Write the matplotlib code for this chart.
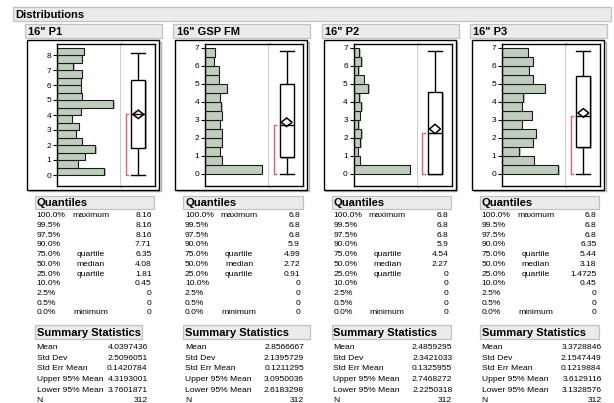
import numpy as np
import matplotlib
matplotlib.use('Agg')
import matplotlib.pyplot as plt
from matplotlib.patches import Rectangle, Polygon
import matplotlib.patheffects as pe

plt.rcParams['font.family'] = ['Liberation Sans', 'DejaVu Sans']

# ---------------- data ----------------
titles = ['16" P1', '16" GSP FM', '16" P2', '16" P3']
bin_width = 0.5
counts_p1 = [32, 14, 19, 26, 17, 13, 15, 10, 16, 38, 17, 16, 16, 17, 11, 17, 18]
counts_gsp = [70, 21, 18, 21, 21, 18, 21, 20, 18, 27, 17, 17, 11, 12]
counts_p2 = [119, 13, 9, 14, 16, 10, 13, 16, 12, 31, 21, 10, 16, 12]
counts_p3 = [42, 24, 13, 23, 25, 15, 22, 15, 16, 32, 23, 20, 23, 19]
all_counts = [counts_p1, counts_gsp, counts_p2, counts_p3]

y_tick_max = [8, 7, 7, 7]

q_pct = ['100.0%', '99.5%', '97.5%', '90.0%', '75.0%', '50.0%', '25.0%',
         '10.0%', '2.5%', '0.5%', '0.0%']
q_names = ['maximum', '', '', '', 'quartile', 'median', 'quartile', '', '', '', 'minimum']
quant_p1 = ['8.16', '8.16', '8.16', '7.71', '6.35', '4.08', '1.81', '0.45', '0', '0', '0']
quant_gsp = ['6.8', '6.8', '6.8', '5.9', '4.99', '2.72', '0.91', '0', '0', '0', '0']
quant_p2 = ['6.8', '6.8', '6.8', '5.9', '4.54', '2.27', '0', '0', '0', '0', '0']
quant_p3 = ['6.8', '6.8', '6.8', '6.35', '5.44', '3.18', '1.4725', '0.45', '0', '0', '0']
all_quant = [quant_p1, quant_gsp, quant_p2, quant_p3]

stat_names = ['Mean', 'Std Dev', 'Std Err Mean', 'Upper 95% Mean', 'Lower 95% Mean', 'N']
stats_p1 = ['4.0397436', '2.5096051', '0.1420784', '4.3193001', '3.7601871', '312']
stats_gsp = ['2.8566667', '2.1395729', '0.1211295', '3.0950036', '2.6183298', '312']
stats_p2 = ['2.4859295', '2.3421033', '0.1325955', '2.7468272', '2.2250318', '312']
stats_p3 = ['3.3728846', '2.1547449', '0.1219884', '3.6129116', '3.1328576', '312']
all_stats = [stats_p1, stats_gsp, stats_p2, stats_p3]

shorth_lo = [0, 0, 0, 0]
shorth_hi = [4.08, 2.72, 2.27, 3.18]

# ---------------- layout ----------------
W, H = 614, 403
fig = plt.figure(figsize=(W / 100, H / 100), dpi=100)
fig.patch.set_facecolor('white')

ov = fig.add_axes([0, 0, 1, 1], zorder=0)
ov.set_xlim(0, W)
ov.set_ylim(H, 0)
ov.axis('off')

BAR_C = '#bfcdbd'
HDR_FC = '#ebebeb'
HDR_EC = '#c2c2c2'
RED = '#e2606f'
BODY = 6.1
HEAD = 8


def hdr(x0, y0, x1, y1):
    ov.add_patch(Rectangle((x0, y0), x1 - x0, y1 - y0, facecolor=HDR_FC,
                           edgecolor=HDR_EC, lw=0.9))


def px_axes(x0, y0, x1, y1, z=2):
    return fig.add_axes([x0 / W, 1 - y1 / H, (x1 - x0) / W, (y1 - y0) / H], zorder=z)


# Distributions header
hdr(13.3, 7.3, 610.7, 21.3)
ov.text(15.5, 14.3 + 4, 'Distributions', fontsize=HEAD, fontweight='bold',
        ha='left', va='baseline')

shadow = [pe.SimplePatchShadow(offset=(0.9, -0.9), shadow_rgbFace='#808080', alpha=0.5),
          pe.Normal()]

sum_hdr_w = [105, 125, 117.5, 117.5]
sum_val_r = [111, 119, 119, 120]

for i in range(4):
    dx = 148.35 * i
    fl = 27 + dx
    hl, sep, ir = fl + 30, fl + 93.8, fl + 128
    top, bot = 43.5, 186

    # title bar
    hdr(25 + dx, 24, 162 + dx, 37.7)
    ov.text(28.3 + dx, 30.8 + 4, titles[i], fontsize=HEAD, fontweight='bold',
            ha='left', va='baseline')

    # outer frame with shadow
    ov.add_patch(Rectangle((fl + 1.5, 41.5), 132, 149.5, facecolor='none',
                           edgecolor='#b0b0b0', lw=1.0))
    ov.add_patch(Rectangle((fl, 40), 132, 149.5, facecolor='white',
                           edgecolor='black', lw=1.0))

    c = all_counts[i]
    q = [float(v) for v in all_quant[i]]
    s = [float(v) for v in all_stats[i]]
    if i == 0:
        zero_px, ppu = 175.0, 15.0
    else:
        zero_px, ppu = 173.7, 18.0
    ylim = ((zero_px - bot) / ppu, (zero_px - top) / ppu)

    # histogram
    ax = px_axes(hl, top, sep, bot)
    ypos = np.arange(len(c)) * bin_width + bin_width / 2
    ax.barh(ypos, c, height=bin_width, color=BAR_C, edgecolor='#1a1a1a', lw=0.8,
            path_effects=shadow)
    ax.set_xlim(0, max(c) * 1.134)
    ax.set_ylim(*ylim)
    ax.set_xticks([])
    ax.set_yticks(range(0, y_tick_max[i] + 1))
    ax.tick_params(axis='y', direction='out', length=3.2, width=0.8,
                   labelsize=6, pad=1)
    for sp in ax.spines.values():
        sp.set_linewidth(1.0)
        sp.set_color('black')

    # box plot
    bx = px_axes(sep, top, ir, bot)
    bw = ir - sep
    bx.set_xlim(0, bw)
    bx.set_ylim(*ylim)
    bx.set_xticks([])
    bx.set_yticks([])
    bx.spines['left'].set_visible(False)
    for sp in bx.spines.values():
        sp.set_linewidth(1.0)
        sp.set_color('black')

    cx, hw = 17.5, 7.0
    qmax, q75, q50, q25, qmin = q[0], q[4], q[5], q[6], q[10]
    mean, up95, lo95 = s[0], s[3], s[4]
    bx.plot([cx, cx], [q75, qmax], color='black', lw=1.0)
    bx.plot([cx, cx], [qmin, q25], color='black', lw=1.0)
    bx.plot([cx - hw, cx + hw], [qmax, qmax], color='black', lw=1.0)
    bx.plot([cx - hw, cx + hw], [qmin, qmin], color='black', lw=1.0)
    bx.add_patch(Rectangle((cx - hw, q25), 2 * hw, q75 - q25, facecolor='white',
                           edgecolor='black', lw=1.0,
                           path_effects=[pe.SimplePatchShadow(offset=(1.3, -1.0),
                                                              shadow_rgbFace='#7a7a7a',
                                                              alpha=0.55),
                                         pe.Normal()], zorder=2))
    dh = 5.5
    bx.add_patch(Polygon([(cx - dh, mean), (cx, up95), (cx + dh, mean), (cx, lo95)],
                         closed=True, facecolor='white', edgecolor='black', lw=1.1,
                         zorder=3))
    bx.plot([cx - hw, cx + hw], [q50, q50], color='black', lw=1.0, zorder=4)
    # shortest half bracket
    rx = 4.8
    bx.plot([rx + 2.4, rx, rx, rx + 2.4],
            [shorth_lo[i], shorth_lo[i], shorth_hi[i], shorth_hi[i]],
            color=RED, lw=1.0, zorder=3)

    # quantiles table
    x0 = 36.7 + 148.3 * i
    hdr(x0 - 1.7, 195.5, x0 + 117.5, 208.5)
    ov.text(x0, 202 + 4, 'Quantiles', fontsize=HEAD, fontweight='bold',
            ha='left', va='baseline')
    for k in range(len(q_pct)):
        yc = 214.4 + 9.7 * k + 3.0
        ov.text(x0, yc, q_pct[k], fontsize=BODY, ha='left', va='baseline')
        if q_names[k]:
            ov.text(x0 + 54, yc, q_names[k], fontsize=BODY, ha='center', va='baseline')
        ov.text(x0 + 115, yc, all_quant[i][k], fontsize=BODY, ha='right', va='baseline')

    # summary statistics table
    hdr(x0 - 1.7, 325, x0 + sum_hdr_w[i], 339)
    ov.text(x0, 332 + 4, 'Summary Statistics', fontsize=HEAD, fontweight='bold',
            ha='left', va='baseline')
    for k in range(len(stat_names)):
        yc = 346.3 + 10.55 * k + 3.0
        ov.text(x0, yc, stat_names[k], fontsize=BODY, ha='left', va='baseline')
        ov.text(x0 + sum_val_r[i], yc, all_stats[i][k], fontsize=BODY,
                ha='right', va='baseline')

fig.savefig('out.png', dpi=100, facecolor='white')
